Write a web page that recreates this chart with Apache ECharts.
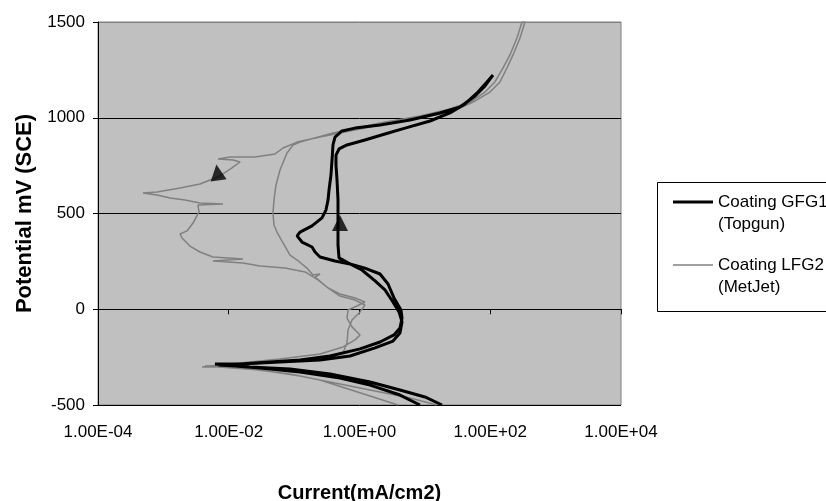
<!DOCTYPE html>
<html><head><meta charset="utf-8">
<script src="https://cdn.jsdelivr.net/npm/echarts@6/dist/echarts.min.js"></script>
<style>html,body{margin:0;padding:0;background:#fff;overflow:hidden}#c{width:826px;height:501px}</style>
</head><body><div id="c"></div>
<script>
// Series names (legend)
const seriesNames = ['Coating GFG1\n(Topgun)', 'Coating LFG2\n(MetJet)'];
// Axis ticks
const yTicks = [-500, 0, 500, 1000, 1500];
const xTickLabels = ['1.00E-04', '1.00E-02', '1.00E+00', '1.00E+02', '1.00E+04'];

// [current mA/cm2, potential mV] — GFG1 (Topgun), forward scan
const gfg1Forward = [
  [8.42,-500],[4.16,-448],[1.45,-396],[0.503,-359],[0.123,-328],[0.0301,-307],[0.0125,-296],[0.00685,-291],
  [0.0149,-286],[0.0608,-275],[0.249,-265],[0.716,-244],[1.73,-202],[3.25,-166],[4.16,-124],[4.47,-66],
  [4.02,-14],[3.25,38],[2.45,101],[1.73,148],[1.09,205],[0.667,242],[0.486,268],[0.469,336],[0.469,440],
  [0.469,570],[0.453,675],[0.437,753],[0.437,805],[0.486,837],[0.644,858],[1.21,884],[2.45,915],[4.97,946],
  [12.0,983],[24.2,1025],[41.1,1072],[64.9,1134],[89.2,1187],[110,1223]
];
// GFG1 reverse scan
const gfg1Reverse = [
  [83.1,1166],[58.4,1114],[34.4,1056],[17.0,1025],[5.92,988],[2.06,962],[0.853,946],[0.540,931],[0.422,899],
  [0.393,858],[0.380,779],[0.366,701],[0.342,623],[0.330,570],[0.307,518],[0.267,477],[0.188,435],[0.123,403],
  [0.111,383],[0.132,351],[0.188,325],[0.209,299],[0.249,273],[0.422,252],[0.716,236],[1.21,215],[2.06,184],
  [2.73,132],[3.37,59],[4.31,-4],[4.47,-46],[4.16,-98],[3.37,-134],[2.06,-171],[1.02,-207],[0.354,-244],
  [0.123,-265],[0.0428,-275],[0.0149,-286],[0.00616,-286],
  [0.0211,-302],[0.0865,-312],[0.354,-338],[1.45,-380],[4.16,-422],[10.0,-458],[18.3,-500]
];
// LFG2 (MetJet), forward scan
const lfg2Forward = [
  [3.88,-500],[1.45,-453],[0.600,-411],[0.249,-369],[0.0865,-338],[0.0211,-312],[0.00735,-302],[0.0039,-302],
  [0.0149,-281],[0.0608,-260],[0.249,-234],[0.559,-197],[0.853,-160],[1.02,-134],[0.768,-92],[0.644,-46],
  [0.667,-4],[0.915,17],[1.21,38],[0.853,59],[0.503,80],[0.330,111],[0.232,153],[0.147,195],[0.0725,215],
  [0.0301,226],[0.0165,242],[0.00574,252],[0.0165,262],[0.00574,273],[0.00363,299],[0.00255,330],[0.00193,372],
  [0.0018,393],[0.0023,409],[0.00284,450],[0.00351,508],[0.00338,544],[0.00817,550],[0.00363,555],[0.00214,570],
  [0.00126,581],[0.0008,597],[0.000488,607],[0.0008,612],[0.0018,633],[0.00363,654],[0.00517,675],[0.00735,696],
  [0.0112,738],[0.0149,769],[0.0116,779],[0.00685,785],[0.01045,795],[0.0252,795],[0.051,811],[0.0676,842],
  [0.111,873],[0.249,899],[0.716,931],[2.06,962],[5.92,988],[17.0,1020],[34.4,1051],[54.5,1082],[99.1,1134],
  [141,1187],[180,1260],[223,1328],[285,1416],[340,1500]
];
// LFG2 reverse scan
const lfg2Reverse = [
  [306,1500],[256,1416],[200,1328],[157,1260],[118,1187],[83.1,1134],[49.0,1082],[24.2,1046],[8.42,1009],
  [2.06,973],[0.393,920],[0.123,873],[0.0961,858],[0.0778,816],[0.0608,727],[0.0528,649],[0.0492,570],
  [0.0475,503],[0.0492,440],[0.0547,403],[0.0676,346],[0.0865,283],[0.111,257],[0.157,215],[0.194,179],
  [0.249,184],[0.209,168],[0.318,116],[0.503,69],[0.853,48],[1.21,22],[1.02,-14],[0.768,-56],[0.667,-108],
  [0.644,-176],[0.559,-228],[0.249,-255],[0.0608,-275],[0.0149,-291],[0.00433,-296],
  [0.0301,-317],[0.123,-349],[0.503,-390],[2.06,-432],[5.92,-463],[15.3,-500]
];
// Scan-direction arrows
const arrowGFG1 = [[0.503, 450]];
const arrowLFG2 = [[0.00673, 714]];

const FONT = "'Liberation Sans', Arial, sans-serif";
const chart = echarts.init(document.getElementById('c'), null, {renderer: 'canvas'});
chart.setOption({
  animation: false,
  backgroundColor: '#fff',
  textStyle: {fontFamily: FONT, color: '#000'},
  grid: {left: 98, top: 22, right: 205, bottom: 96, show: true, backgroundColor: '#C0C0C0',
         borderColor: '#808080', borderWidth: 1, containLabel: false, outerBoundsMode: 'none'},
  xAxis: {
    type: 'log', logBase: 10, min: 1e-4, max: 1e4, interval: 2,
    name: 'Current(mA/cm2)', nameLocation: 'middle', nameGap: 78,
    nameTextStyle: {fontSize: 20, fontWeight: 'bold', color: '#000', fontFamily: FONT},
    axisLine: {show: true, lineStyle: {color: '#000', width: 1}},
    axisTick: {show: true, inside: false, length: 5, lineStyle: {color: '#000'}},
    axisLabel: {fontSize: 17, color: '#000', margin: 19, fontFamily: FONT,
      formatter: v => { const e = Math.round(Math.log10(v)); const i = (e + 4) / 2; return Number.isInteger(i) && xTickLabels[i] ? xTickLabels[i] : ''; }},
    splitLine: {show: false}, minorTick: {show: false}
  },
  yAxis: {
    type: 'value', min: yTicks[0], max: yTicks[yTicks.length - 1], interval: 500,
    name: 'Potential mV (SCE)', nameLocation: 'middle', nameGap: 55,
    nameTextStyle: {fontSize: 22, fontWeight: 'bold', color: '#000', fontFamily: FONT},
    axisLine: {show: true, lineStyle: {color: '#000', width: 1}},
    axisTick: {show: true, inside: false, length: 5, lineStyle: {color: '#000'}},
    axisLabel: {fontSize: 17, color: '#000', margin: 13, fontFamily: FONT, formatter: v => String(v)},
    splitLine: {show: true, lineStyle: {color: ['#000', '#000', '#000', '#000', '#808080'], width: 1}}
  },
  legend: {
    data: [
      {name: seriesNames[0], icon: 'path://M0,0L40,0L40,3L0,3Z'},
      {name: seriesNames[1], icon: 'path://M0,0L80,0L80,3L0,3Z'}
    ],
    orient: 'vertical', left: 673, top: 169, itemGap: -3,
    itemWidth: 40, itemHeight: 14, padding: 0,
    formatter: name => ' \n' + name,
    textStyle: {fontSize: 17, lineHeight: 22, color: '#000', fontFamily: FONT}
  },
  graphic: [{type: 'polyline', z: -10,
             shape: {points: [[1000, 182.5], [657.5, 182.5], [657.5, 311.5], [1000, 311.5]]},
             style: {fill: null, stroke: '#000', lineWidth: 1}}],
  series: [
    {name: seriesNames[1], type: 'line', data: lfg2Forward.concat(lfg2Reverse), symbol: 'none', showSymbol: false,
     lineStyle: {color: '#808080', width: 1.5}, itemStyle: {color: '#808080'}, z: 2},
    {name: seriesNames[0], type: 'line', data: gfg1Forward.concat(gfg1Reverse), symbol: 'none', showSymbol: false,
     lineStyle: {color: '#000', width: 3}, itemStyle: {color: '#000'}, z: 3},
    {name: 'arrow GFG1', type: 'scatter', data: arrowGFG1, symbol: 'triangle', symbolSize: 16,
     itemStyle: {color: '#000'}, z: 5},
    {name: 'arrow LFG2', type: 'scatter', data: arrowLFG2, symbol: 'triangle', symbolSize: 16, symbolRotate: 8,
     itemStyle: {color: '#000'}, z: 5}
  ]
});
</script></body></html>
